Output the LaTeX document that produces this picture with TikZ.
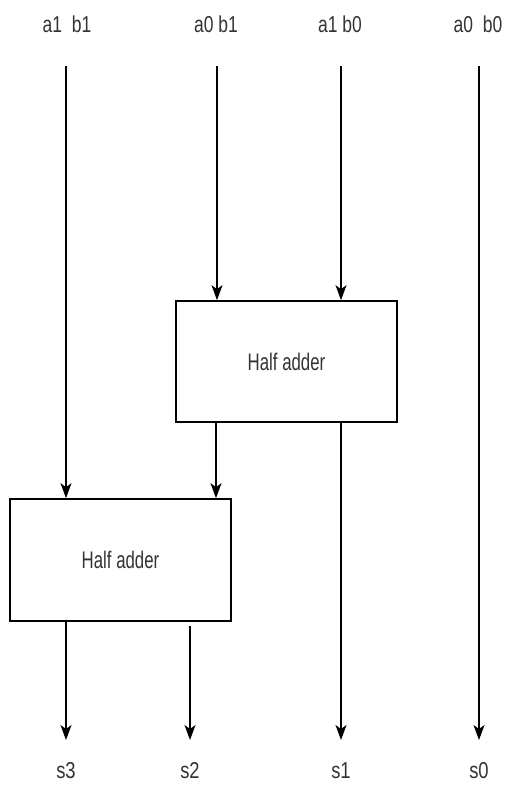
\documentclass[tikz,border=0pt]{standalone}
\usepackage{fontspec}
\usepackage{graphicx}
\setmainfont{Liberation Sans}
\usetikzlibrary{arrows.meta}
\definecolor{txt}{HTML}{333333}
\tikzset{
  lbl/.style={text=txt, font=\fontsize{23}{26}\selectfont, inner sep=0pt},
  adder/.style={draw, line width=1.7pt, minimum width=221pt, minimum height=121pt, inner sep=0pt,
    text=txt, font=\fontsize{24}{28}\selectfont},
  wire/.style={line width=1.5pt, -{Stealth[length=15pt, width=11pt, inset=4pt]}}
}
\newcommand{\nrw}[2]{\scalebox{#1}[1]{#2}}
\begin{document}
\begin{tikzpicture}[x=1pt, y=-1pt]
  \useasboundingbox (0,0) rectangle (506,785);

  % input labels
  \node[lbl] (ta) at (67,24) {\nrw{0.76}{a1\ \ b1}};
  \node[lbl] (tb) at (216,24) {\nrw{0.76}{a0\ b1}};
  \node[lbl] (tc) at (340,24) {\nrw{0.76}{a1\ b0}};
  \node[lbl] (td) at (478,24) {\nrw{0.76}{a0\ \ b0}};

  % wire start points
  \coordinate (ia) at (66,66);
  \coordinate (ib) at (217,66);
  \coordinate (ic) at (341,66);
  \coordinate (id) at (479,66);

  % half adders
  \node[adder] (ha1) at (286.5,361.5) {\nrw{0.7}{Half adder}};
  \node[adder, minimum height=122pt] (ha2) at (120.5,560) {\nrw{0.7}{Half adder}};

  % output labels
  \node[lbl] (s3) at (66,771) {\nrw{0.8}{s3}};
  \node[lbl] (s2) at (190,771) {\nrw{0.8}{s2}};
  \node[lbl] (s1) at (341,771) {\nrw{0.8}{s1}};
  \node[lbl] (s0) at (479,771) {\nrw{0.8}{s0}};

  % arrow end points above the output labels
  \coordinate (e3) at (66,740);
  \coordinate (e2) at (190,740);
  \coordinate (e1) at (341,740);
  \coordinate (e0) at (479,740);

  % carry from the upper half adder into the lower one
  \coordinate (cu) at (ha1.south -| 216,0);
  \coordinate (cl) at (ha2.north -| 216,0);

  % inputs into the upper half adder
  \draw[wire] (ib) -- (ib |- ha1.north);
  \draw[wire] (ic) -- (ic |- ha1.north);

  % upper half adder outputs
  \draw[wire] (cu) -- (cl);
  \draw[wire] (ha1.south -| ic) -- (e1);

  % a1 b1 into the lower half adder
  \draw[wire] (ia) -- (ia |- ha2.north);

  % lower half adder outputs
  \draw[wire] (ha2.south -| e3) -- (e3);
  \draw[wire] ([yshift=-4pt]ha2.south -| e2) -- (e2);

  % a0 b0 straight through
  \draw[wire] (id) -- (e0);
\end{tikzpicture}
\end{document}
